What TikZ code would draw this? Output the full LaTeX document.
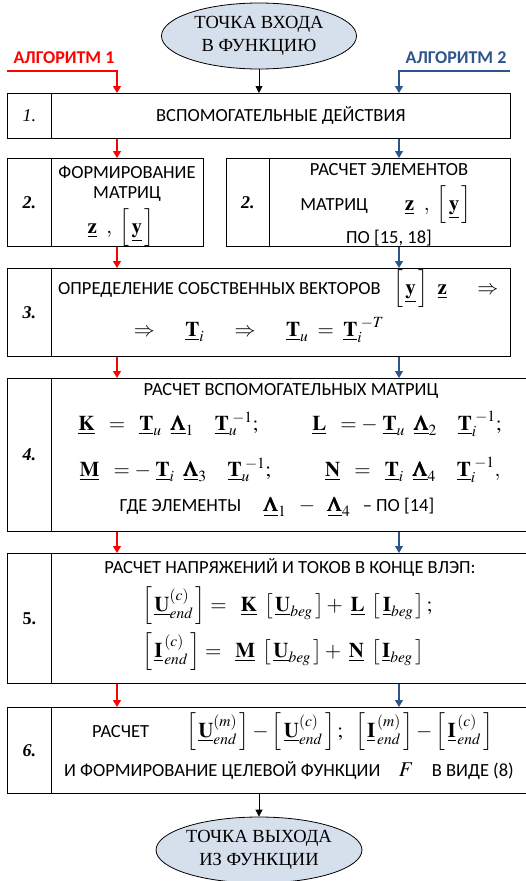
\documentclass[tikz,border=0pt]{standalone}
\usepackage{amsmath}
\usepackage{mathptmx}
\usepackage[no-math]{fontspec}
\setmainfont{Carlito}
\newfontfamily\tnr{Liberation Serif}
\usetikzlibrary{shapes.geometric,arrows.meta}
\definecolor{algred}{RGB}{255,0,0}
\definecolor{algblue}{RGB}{46,84,140}
\definecolor{ovalfill}{RGB}{214,224,236}
\newcommand{\ub}[1]{\underline{\mathbf{#1}}}
\newcommand{\ubl}{\underline{\pmb{\Lambda}}}
\newcommand{\bry}{\Bigl[\,\ub{y}\,\Bigr]}
\newcommand{\mfrag}[1]{{\fontsize{21}{25}\selectfont$#1$}}
\begin{document}
\begin{tikzpicture}[x=1pt,y=-1pt,
	box/.style={draw, line width=0.9pt, anchor=north west, inner sep=0pt},
	numtxt/.style={font=\tnr\bfseries\itshape\fontsize{18}{21}\selectfont},
	lbl/.style={inner sep=0pt, font=\fontsize{18.5}{22}\selectfont},
	oval/.style={ellipse, draw, line width=0.8pt, fill=ovalfill, inner sep=0pt,
		minimum width=195pt, minimum height=66pt, align=center,
		font=\tnr\fontsize{18.5}{23}\selectfont},
	algname/.style={inner sep=0pt, font=\bfseries\fontsize{18}{21}\selectfont},
	redarr/.style={algred, line width=1.3pt, -{Triangle[width=8pt,length=7pt]}},
	bluarr/.style={algblue, line width=1.3pt, -{Triangle[width=8pt,length=7pt]}},
	blkarr/.style={black, line width=0.9pt, -{Triangle[width=7pt,length=7pt]}}]
	\useasboundingbox (0,0) rectangle (526,881);

	% Entry point and the two algorithms
	\node[oval] (entry) at (259,36) {ТОЧКА ВХОДА\\В ФУНКЦИЮ};
	\node[algname, algred] (alg1) at (64,58) {АЛГОРИТМ 1};
	\node[algname, algblue] (alg2) at (456,58) {АЛГОРИТМ 2};
	\coordinate (a1) at (7,71);
	\coordinate (a2) at (510,71);
	\coordinate (rx) at (117,0);
	\coordinate (bx) at (399,0);

	% Step 1
	\node[box, minimum width=44pt, minimum height=45pt, numtxt, font=\tnr\itshape\fontsize{18}{21}\selectfont] (n1) at (7,93) {1.};
	\node[box, minimum width=459pt, minimum height=45pt] (b1) at (51,93) {};
	\node[lbl] (t1) at (b1.center) {ВСПОМОГАТЕЛЬНЫЕ ДЕЙСТВИЯ};

	% Step 2
	\node[box, minimum width=44pt, minimum height=88pt, numtxt] (n2l) at (7,158) {2.};
	\node[box, minimum width=152pt, minimum height=88pt] (b2l) at (51,158) {};
	\node[lbl] (t2a) at (127,172) {ФОРМИРОВАНИЕ};
	\node[lbl] (t2b) at (127,194) {МАТРИЦ};
	\node[lbl] (t2c) at (121,228) {\mfrag{\ub{z}\ \ ,\ \bry}};
	\node[box, minimum width=43pt, minimum height=88pt, numtxt] (n2r) at (226,158) {2.};
	\node[box, minimum width=241pt, minimum height=88pt] (b2r) at (269,158) {};
	\node[lbl] (t2d) at (389,170) {РАСЧЕТ ЭЛЕМЕНТОВ};
	\node[lbl] (t2e) at (386,205) {МАТРИЦ\qquad\mfrag{\ub{z}\ \ ,\ \bry}};
	\node[lbl] (t2f) at (389,238) {ПО [15, 18]};

	% Step 3
	\node[box, minimum width=44pt, minimum height=88pt, numtxt] (n3) at (7,268) {3.};
	\node[box, minimum width=459pt, minimum height=88pt] (b3) at (51,268) {};
	\node[lbl, anchor=west] (t3a) at (58,289) {ОПРЕДЕЛЕНИЕ СОБСТВЕННЫХ ВЕКТОРОВ\ \ \ \mfrag{\bry\ \ \ub{z}\quad\ \Rightarrow}};
	\node[lbl] (t3b) at (259,330) {\mfrag{\Rightarrow\quad\ \ub{T}_i\quad\ \Rightarrow\quad\ \ub{T}_u\ =\ \ub{T}_i^{\;-T}}};

	% Step 4
	\node[box, minimum width=44pt, minimum height=153pt, numtxt] (n4) at (7,378) {4.};
	\node[box, minimum width=490pt, minimum height=153pt] (b4) at (51,378) {};
	\node[lbl] (t4a) at (291,391) {РАСЧЕТ ВСПОМОГАТЕЛЬНЫХ МАТРИЦ};
	\node[lbl] (t4b) at (290,424) {\mfrag{\ub{K}\ \ =\ \ \ub{T}_u\ \ \ubl_1\quad\ub{T}_u^{\;-1};\qquad\ \ \ub{L}\ \ =-\ \ub{T}_u\ \ \ubl_2\quad\ub{T}_i^{\;-1};}};
	\node[lbl] (t4c) at (290,470) {\mfrag{\ub{M}\ \ =-\ \ub{T}_i\ \ \ubl_3\quad\ub{T}_u^{\;-1};\qquad\ \ \ub{N}\ \ =\ \ \ub{T}_i\ \ \ubl_4\quad\ub{T}_i^{\;-1},}};
	\node[lbl] (t4d) at (277,507) {ГДЕ ЭЛЕМЕНТЫ\quad\ \mfrag{\ubl_1\ \ -\ \ \ubl_4}\ \ \ –\ ПО [14]};

	% Step 5
	\node[box, minimum width=44pt, minimum height=130pt, numtxt, font=\tnr\bfseries\fontsize{18}{21}\selectfont] (n5) at (7,553) {5.};
	\node[box, minimum width=490pt, minimum height=130pt] (b5) at (51,553) {};
	\node[lbl] (t5a) at (290,567) {РАСЧЕТ НАПРЯЖЕНИЙ И ТОКОВ В КОНЦЕ ВЛЭП:};
	\node[lbl, anchor=west] (t5b) at (142,606) {\mfrag{\left[\,\ub{U}^{(c)}_{end}\,\right]=\ \ \ub{K}\ \left[\,\ub{U}_{beg}\,\right]+\ \ub{L}\ \left[\,\ub{I}_{beg}\,\right];}};
	\node[lbl, anchor=west] (t5c) at (142,652) {\mfrag{\left[\,\ub{I}^{\,(c)}_{\,end}\,\right]=\ \ \ub{M}\ \left[\,\ub{U}_{beg}\,\right]+\ \ub{N}\ \left[\,\ub{I}_{beg}\,\right]}};

	% Step 6
	\node[box, minimum width=44pt, minimum height=86pt, numtxt] (n6) at (7,707) {6.};
	\node[box, minimum width=490pt, minimum height=86pt] (b6) at (51,707) {};
	\node[lbl, anchor=west] (t6a) at (92,732) {РАСЧЕТ\qquad\mfrag{\left[\,\ub{U}^{(m)}_{end}\,\right]-\left[\,\ub{U}^{(c)}_{end}\,\right];\ \ \left[\,\ub{I}^{\,(m)}_{\,end}\,\right]-\left[\,\ub{I}^{\,(c)}_{\,end}\,\right]}};
	\node[lbl] (t6b) at (289,770) {И ФОРМИРОВАНИЕ ЦЕЛЕВОЙ ФУНКЦИИ\quad\mfrag{F}\quad В ВИДЕ (8)};

	% Exit point
	\node[oval] (exit) at (259,850) {ТОЧКА ВЫХОДА\\ИЗ ФУНКЦИИ};

	% Arrows
	\draw[redarr] (a1) -| (b1.north -| rx);
	\draw[bluarr] (a2) -| (b1.north -| bx);
	\draw[blkarr] (entry.south) -- (entry.south |- b1.north);
	\draw[redarr] (b1.south -| rx) -- (b2l.north -| rx);
	\draw[bluarr] (b1.south -| bx) -- (b2r.north -| bx);
	\draw[redarr] (b2l.south -| rx) -- (b3.north -| rx);
	\draw[bluarr] (b2r.south -| bx) -- (b3.north -| bx);
	\draw[redarr] (b3.south -| rx) -- (b4.north -| rx);
	\draw[bluarr] (b3.south -| bx) -- (b4.north -| bx);
	\draw[redarr] (b4.south -| rx) -- (b5.north -| rx);
	\draw[bluarr] (b4.south -| bx) -- (b5.north -| bx);
	\draw[redarr] (b5.south -| rx) -- (b6.north -| rx);
	\draw[bluarr] (b5.south -| bx) -- (b6.north -| bx);
	\draw[blkarr] (exit.north |- b6.south) -- (exit.north);
\end{tikzpicture}
\end{document}
